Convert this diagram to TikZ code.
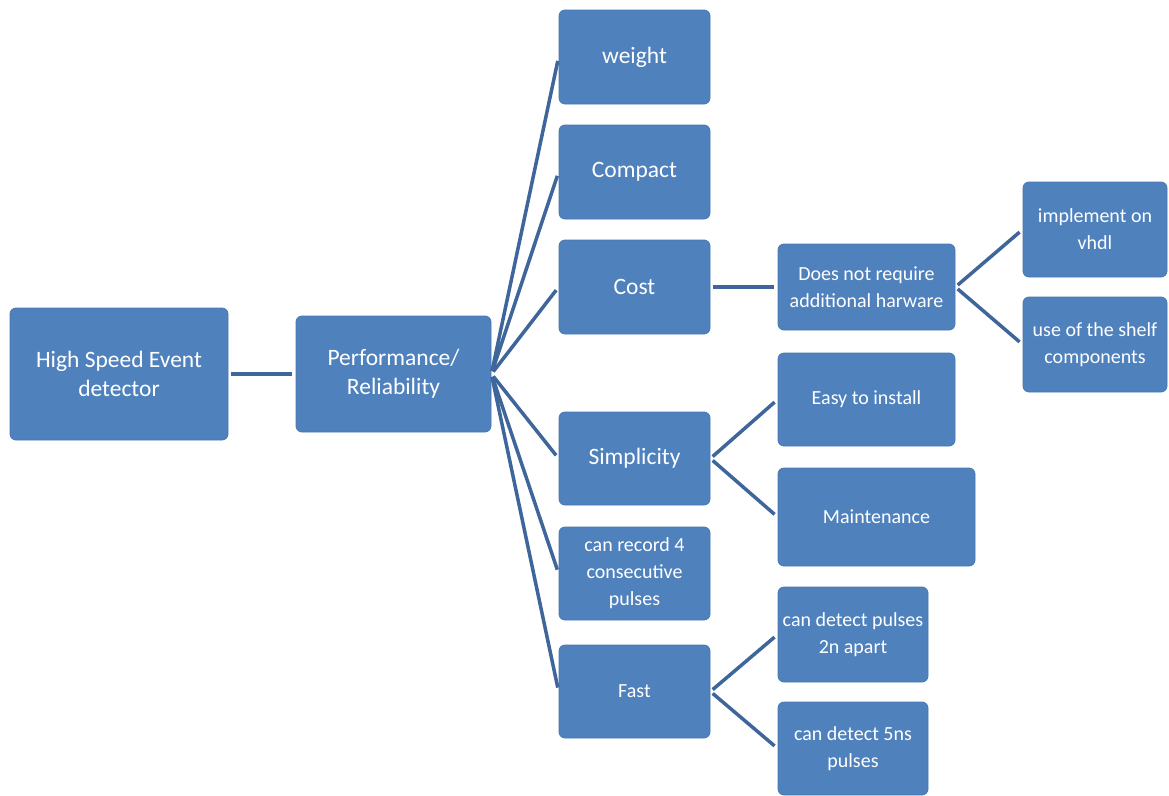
\documentclass[tikz,border=0pt]{standalone}
\usepackage{fontspec}
\setmainfont{Carlito}
\definecolor{boxblue}{RGB}{79,129,189}
\definecolor{boxedge}{RGB}{72,120,178}
\definecolor{linkblue}{RGB}{62,102,155}
\tikzset{
  box/.style={draw=boxedge, line width=0.8pt, fill=boxblue, rounded corners=6pt, text=white,
    align=center, inner sep=0pt, anchor=center},
  bigtxt/.style={font=\fontsize{23.5}{29}\selectfont},
  smalltxt/.style={font=\fontsize{20}{27}\selectfont},
  conn/.style={draw=linkblue, line width=3.5pt, shorten <=3pt, shorten >=4pt}
}
\begin{document}
\begin{tikzpicture}[x=1pt,y=-1pt]
\useasboundingbox[fill=white] (0,0) rectangle (1169,795);
% level 0 / 1
\node[box,bigtxt,minimum width=218pt,minimum height=132pt] (root) at (119,374) {High Speed Event\\detector};
\node[box,bigtxt,minimum width=195pt,minimum height=116pt] (perf) at (393.5,374) {Performance/\\Reliability};
% level 2
\node[box,bigtxt,minimum width=151pt,minimum height=94pt] (weight) at (634.5,57) {weight};
\node[box,bigtxt,minimum width=151pt,minimum height=94pt] (compact) at (634.5,172) {Compact};
\node[box,bigtxt,minimum width=151pt,minimum height=94pt] (cost) at (634.5,287) {Cost};
\node[box,bigtxt,minimum width=151pt,minimum height=93pt] (simp) at (634.5,458.5) {Simplicity};
\node[box,smalltxt,minimum width=151pt,minimum height=93pt] (rec) at (634.5,573.5) {can record 4\\consecutive\\pulses};
\node[box,smalltxt,minimum width=151pt,minimum height=93pt] (fast) at (634.5,691.5) {Fast};
% level 3
\node[box,smalltxt,minimum width=177pt,minimum height=86pt] (does) at (866.5,287) {Does not require\\additional harware};
\node[box,smalltxt,minimum width=177pt,minimum height=93pt] (easy) at (866.5,399.5) {Easy to install};
\node[box,smalltxt,minimum width=197pt,minimum height=98pt] (maint) at (876.5,517) {Maintenance};
\node[box,smalltxt,minimum width=150pt,minimum height=95pt] (det2) at (853,634.5) {can detect pulses\\2n apart};
\node[box,smalltxt,minimum width=150pt,minimum height=93pt] (det5) at (853,748.5) {can detect 5ns\\pulses};
% level 4
\node[box,smalltxt,minimum width=144pt,minimum height=95pt] (impl) at (1095,229.5) {implement on\\vhdl};
\node[box,smalltxt,minimum width=144pt,minimum height=95pt] (shelf) at (1095,344.5) {use of the shelf\\components};
% connectors
\draw[conn] (root.east) -- (perf.east -| perf.west);
\foreach \c in {weight,compact,cost,simp,rec,fast}
  \draw[conn] (perf.east) -- (\c.west);
\draw[conn] (cost.east) -- (does.west);
\draw[conn] (does.east) -- (impl.west);
\draw[conn] (does.east) -- (shelf.west);
\draw[conn] (simp.east) -- (easy.west);
\draw[conn] (simp.east) -- (maint.west);
\draw[conn] (fast.east) -- (det2.west);
\draw[conn] (fast.east) -- (det5.west);
\end{tikzpicture}
\end{document}
